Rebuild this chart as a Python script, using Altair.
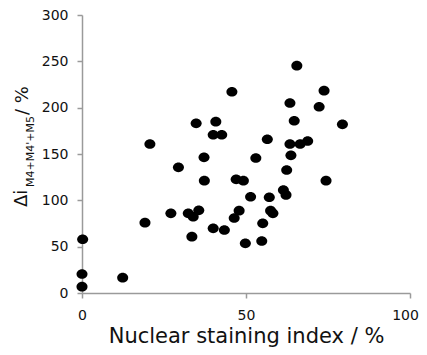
import altair as alt
import pandas as pd

# Data
staining_index = [0.2, 0, 0, 12.4, 19.2, 20.7, 27.1, 29.4, 32.4, 33.9, 35.6, 33.5,
                  34.8, 37.2, 37.3, 40.0, 40.8, 40.0, 42.6, 43.4, 45.7, 46.4, 47.9,
                  47.0, 49.2, 49.8, 51.4, 53.0, 54.8, 55.1, 56.5, 57.1, 57.5, 58.2,
                  61.4, 62.2, 62.4, 63.4, 63.7, 63.4, 64.7, 65.5, 66.5, 68.8, 72.3,
                  73.8, 74.4, 79.4]
delta_i = [58, 20.5, 6.8, 16.5, 75.9, 160.8, 86, 135.6, 86, 82.3, 89.2, 60.8,
           183.1, 146.4, 121.2, 69.8, 184.9, 170.8, 170.8, 68, 217.2, 80.9, 88.8,
           122.7, 121.2, 53.6, 103.9, 145.7, 56.1, 75.2, 165.9, 103.3, 88.8, 86,
           111.1, 105.8, 132.7, 205, 148.6, 160.8, 185.9, 245.3, 160.8, 164, 201,
           218.3, 121.2, 182]
x_ticks = [0, 50, 100]
y_ticks = [0, 50, 100, 150, 200, 250, 300]

df = pd.DataFrame({"x": staining_index, "y": delta_i})

FONT = "DejaVu Sans"
AX = "#9a9a9a"

ellipse = "M-1,0 A1,0.88,0,1,1,1,0 A1,0.88,0,1,1,-1,0 Z"

points = alt.Chart(df).mark_point(
    shape=ellipse, filled=True, color="black", opacity=1, size=121
).encode(
    x=alt.X("x:Q",
            scale=alt.Scale(domain=[0, 100], nice=False, zero=False),
            axis=alt.Axis(values=x_ticks, title="Nuclear staining index / %",
                          grid=False, domainColor=AX, domainWidth=1.5,
                          tickColor=AX, tickWidth=1.5, tickSize=5,
                          labelFont=FONT, labelFontSize=14, labelColor="#111",
                          labelPadding=10, labelFlush=False,
                          labelOffset={"expr": "datum.value == 100 ? -5 : 0"},
                          titleFont=FONT, titleFontSize=21, titleFontWeight="normal",
                          titleColor="#111", titlePadding=3)),
    y=alt.Y("y:Q",
            scale=alt.Scale(domain=[0, 300], nice=False, zero=False),
            axis=alt.Axis(values=y_ticks, title=None,
                          grid=False, domainColor=AX, domainWidth=1.5,
                          tickColor=AX, tickWidth=1.5, tickSize=5,
                          labelFont=FONT, labelFontSize=14, labelColor="#111",
                          labelPadding=9, labelFlush=False)),
)

def label(txt, px, py, size):
    return alt.Chart(pd.DataFrame({"t": [txt]})).mark_text(
        angle=270, align="left", baseline="alphabetic",
        font=FONT, fontSize=size, color="#111"
    ).encode(text="t:N", x=alt.value(px), y=alt.value(py))

# y-axis title: Δi with subscript M4+M4'+M5, then " / %"
title_main = label("Δi", -55, 192, 18)
title_sub = label("M4+M4'+M5", -48, 172, 11)
title_unit = label("/ %", -54, 100, 18)

chart = alt.layer(points, title_main, title_sub, title_unit).properties(
    width=328, height=278,
    autosize=alt.AutoSizeParams(type="none"),
    padding={"left": 74, "top": 7, "right": 9, "bottom": 54},
).configure_view(stroke=None)

chart.save("out.html", embed_options={"renderer": "svg", "actions": False})
